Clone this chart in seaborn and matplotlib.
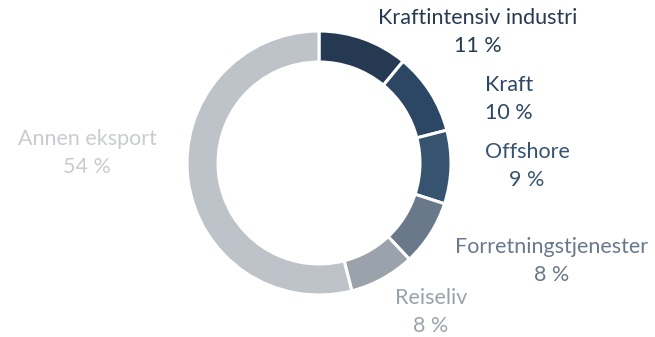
import matplotlib
matplotlib.use("Agg")
import matplotlib.pyplot as plt
import seaborn as sns

# Export shares (%)
categories = ["Kraftintensiv industri", "Kraft", "Offshore",
              "Forretningstjenester", "Reiseliv", "Annen eksport"]
shares = [11, 10, 9, 8, 8, 54]
colors = ["#253a52", "#2c4763", "#36536f", "#69788b", "#9aa2ab", "#bec3c9"]
label_colors = ["#253a52", "#2c4763", "#36536f", "#69788b", "#9aa2ab", "#c8ccd1"]

# label anchor positions in pixels (x from left, y from top)
label_px = [(478, 18), (509, 85), (527, 152), (552, 247), (431, 298), (87, 139)]

sns.set_theme(style="white")
plt.rcParams["font.family"] = ["Lato", "DejaVu Sans"]

W, H, DPI = 655, 337, 100
fig = plt.figure(figsize=(W / DPI, H / DPI), dpi=DPI)
ax = fig.add_axes([0, 0, 1, 1])

cx, cy, R = 319, 163, 132
ax.pie(shares, colors=colors, startangle=90, counterclock=False,
       radius=1.0, center=(0, 0),
       wedgeprops=dict(width=0.235, edgecolor="white", linewidth=2.2))
ax.set_xlim(-cx / R, (W - cx) / R)
ax.set_ylim((cy - H) / R, cy / R)
ax.set_aspect("equal")
ax.axis("off")

for name, val, col, (px, py) in zip(categories, shares, label_colors, label_px):
    x = (px - cx) / R
    y = (cy - py) / R
    ax.text(x, y, name, ha="center", va="center", fontsize=15.5, color=col)
    ax.text(x, y - 28 / R, f"{val} %", ha="center", va="center",
            fontsize=15.5, color=col)

fig.savefig("out.png", dpi=DPI, facecolor="white")
